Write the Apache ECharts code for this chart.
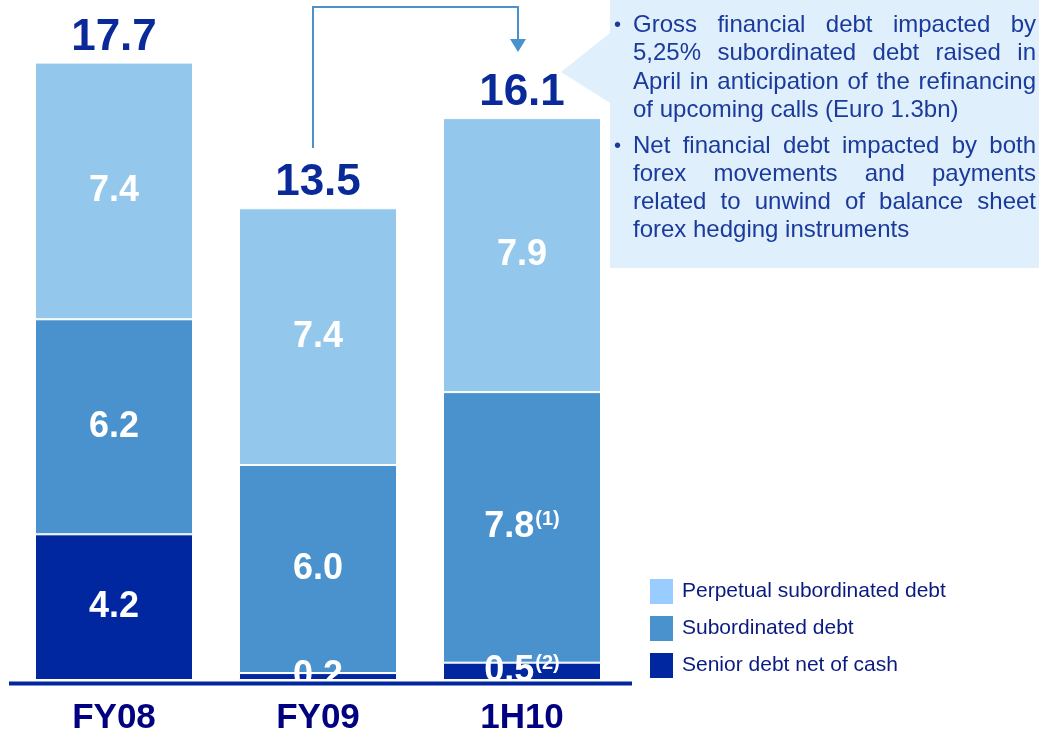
<!DOCTYPE html>
<html>
<head>
<meta charset="utf-8">
<script src="https://cdn.jsdelivr.net/npm/echarts@6/dist/echarts.min.js"></script>
<style>
  html, body { margin: 0; padding: 0; background: #fff; }
  #debtChart { width: 1039px; height: 733px; }
</style>
</head>
<body>
<div id="debtChart"></div>
<script>
// data
var categories = ['FY08', 'FY09', '1H10'];
var seniorDebt = [4.2, 0.2, 0.5];
var subordinatedDebt = [6.2, 6.0, 7.8];
var perpetualDebt = [7.4, 7.4, 7.9];
var totals = [17.7, 13.5, 16.1];
var subordinatedNotes = ['', '', '(1)'];
var seniorNotes = ['', '', '(2)'];

var font = '"Liberation Sans", Arial, sans-serif';
var colors = ['#93c7eb', '#4a92cd', '#0026a0'];
var noteColor = '#1a3a9c';

// callout text, broken as on the slide; last line of each bullet is not justified
var calloutLines = [
	['Gross financial debt impacted by', true],
	['5,25% subordinated debt raised in', true],
	['April in anticipation of the refinancing', true],
	['of upcoming calls (Euro 1.3bn)', false],
	['Net financial debt impacted by both', true],
	['forex movements and payments', true],
	['related to unwind of balance sheet', true],
	['forex hedging instruments', false]
];
var lineY = [25, 53, 82, 110, 146, 174, 202, 230];

function segLabel(notes) {
	return {
		show: true,
		position: 'inside',
		formatter: function (p) {
			var n = notes[p.dataIndex];
			return '{v|' + p.value.toFixed(1) + '}' + (n ? '{s|' + n + '}' : '');
		},
		rich: {
			v: { color: '#fff', fontSize: 36, fontWeight: 'bold', fontFamily: font },
			s: { color: '#fff', fontSize: 20, fontWeight: 'bold', fontFamily: font, verticalAlign: 'top', padding: [0, 0, 16, 1] }
		}
	};
}

// justified callout words
var ctx = document.createElement('canvas').getContext('2d');
var calloutFont = '24px ' + font;
ctx.font = calloutFont;
var textLeft = 633, textRight = 1036;
var calloutTexts = [];
calloutLines.forEach(function (row, i) {
	var words = row[0].split(' ');
	var widths = words.map(function (w) { return ctx.measureText(w).width; });
	var sum = widths.reduce(function (a, b) { return a + b; }, 0);
	var gap = row[1] ? (textRight - textLeft - sum) / (words.length - 1) : ctx.measureText(' ').width;
	var x = textLeft;
	words.forEach(function (w, k) {
		calloutTexts.push({
			type: 'text', x: x, y: lineY[i], z: 5,
			style: { text: w, fill: noteColor, font: calloutFont, textVerticalAlign: 'middle' }
		});
		x += widths[k] + gap;
	});
});

var chart = echarts.init(document.getElementById('debtChart'));
var option = {
	animation: false,
	grid: { left: 12, width: 612, top: 21, bottom: 53, outerBoundsMode: 'none' },
	legend: {
		orient: 'vertical',
		left: 648,
		top: 577,
		padding: 0,
		itemWidth: 25,
		itemHeight: 27,
		itemGap: 8,
		icon: 'rect',
		data: [
			{ name: 'Perpetual subordinated debt', itemStyle: { color: '#99ccff' } },
			{ name: 'Subordinated debt', itemStyle: { color: '#4a92cd' } },
			{ name: 'Senior debt net of cash', itemStyle: { color: '#0026a0' } }
		],
		textStyle: { color: '#0a1a80', fontSize: 21, fontFamily: font, padding: [0, 0, 0, 3] }
	},
	xAxis: {
		type: 'category',
		data: categories,
		axisTick: { show: false },
		axisLine: { show: false },
		axisLabel: { color: '#000080', fontSize: 35, fontWeight: 'bold', fontFamily: font, margin: 21 }
	},
	yAxis: {
		type: 'value',
		min: 0,
		max: 19,
		show: false
	},
	series: [
		{
			name: 'Senior debt net of cash', type: 'bar', stack: 'debt', barWidth: 158,
			itemStyle: { color: colors[2], borderColor: '#fff', borderWidth: 1 },
			label: segLabel(seniorNotes),
			data: seniorDebt
		},
		{
			name: 'Subordinated debt', type: 'bar', stack: 'debt',
			itemStyle: { color: colors[1], borderColor: '#fff', borderWidth: 1 },
			label: segLabel(subordinatedNotes),
			data: subordinatedDebt
		},
		{
			name: 'Perpetual subordinated debt', type: 'bar', stack: 'debt',
			itemStyle: { color: colors[0], borderColor: '#fff', borderWidth: 1 },
			label: segLabel(['', '', '']),
			data: perpetualDebt
		},
		{
			// totals above the bars
			name: 'Total', type: 'line', symbol: 'circle', symbolSize: 1, silent: true,
			itemStyle: { color: 'rgba(0,0,0,0)' },
			lineStyle: { width: 0, color: 'rgba(0,0,0,0)' },
			label: {
				show: true, position: 'top', distance: 6,
				color: '#0a2a9a', fontSize: 44, fontWeight: 'bold', fontFamily: font,
				formatter: function (p) { return p.value.toFixed(1); }
			},
			data: totals
		}
	],
	graphic: [
		// baseline
		{ type: 'line', shape: { x1: 9, y1: 683.5, x2: 632, y2: 683.5 }, style: { stroke: '#0026a0', lineWidth: 4 }, z: 10 },
		// arrow from FY09 to 1H10
		{ type: 'polyline', shape: { points: [[313, 148], [313, 7], [518, 7], [518, 40]] }, style: { stroke: '#4a92cd', lineWidth: 2, fill: null } },
		{ type: 'polygon', shape: { points: [[510, 39], [526, 39], [518, 52]] }, style: { fill: '#4a92cd' } },
		// callout box
		{ type: 'polygon', shape: { points: [[610, 0], [1039, 0], [1039, 268], [610, 268], [610, 103], [561, 72], [610, 33]] }, style: { fill: '#e0effc' }, z: 0 },
		{ type: 'text', x: 614, y: 25, z: 5, style: { text: '•', fill: noteColor, font: '20px ' + font, textVerticalAlign: 'middle' } },
		{ type: 'text', x: 614, y: 146, z: 5, style: { text: '•', fill: noteColor, font: '20px ' + font, textVerticalAlign: 'middle' } }
	].concat(calloutTexts)
};
chart.setOption(option);
</script>
</body>
</html>
